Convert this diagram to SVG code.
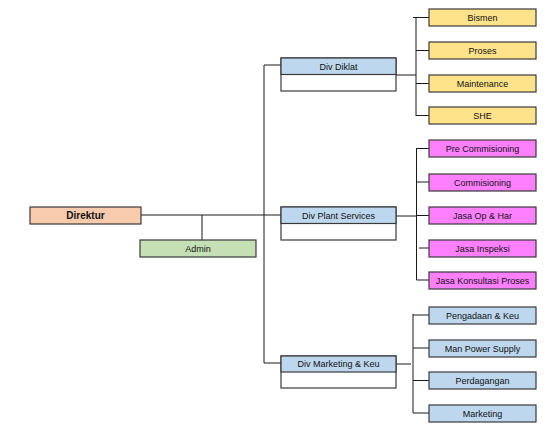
<svg xmlns="http://www.w3.org/2000/svg" width="556" height="433" viewBox="0 0 556 433">
<style>
.box{stroke:#3a3a3a;stroke-width:1.2}
.w{fill:#ffffff}
.peach{fill:#F8CBAD}
.green{fill:#C5E0B4}
.blue{fill:#BDD7EE}
.yellow{fill:#FFE38A}
.pink{fill:#FF80FF}
.ln{stroke:#1a1a1a;stroke-width:1;fill:none}
text{font-family:"Liberation Sans",Arial,sans-serif;font-size:9px;fill:#111;text-anchor:middle;dominant-baseline:central}
.b{font-weight:bold;font-size:10px}
</style>
<rect width="556" height="433" fill="#ffffff"/>
<g id="connectors">
<path class="ln" d="M141 215H281M202 215V240M264 65V363M264 65H281M264 363H281"/>
<path class="ln" d="M396 75H416M416 17V116M413 17.5H429M416 50.5H429M416 83.5H429M416 115.5H429"/>
<path class="ln" d="M396 216H416.5M416.5 148V280M416.5 148.5H429M416.5 182H429M416.5 215.5H429M419 248H429M416.5 280H429"/>
<path class="ln" d="M396 364H411M413 314V413M413 315H429M413 348H429M413 380.5H429M413 413H429"/>
</g>
<g id="direktur"><rect class="box peach" x="30" y="207" width="111" height="17"/><text class="b" x="85.5" y="215.5">Direktur</text></g>
<g id="admin"><rect class="box green" x="140" y="240" width="116" height="17"/><text x="198" y="248.5">Admin</text></g>
<g id="div-diklat"><rect class="box w" x="281" y="58" width="115" height="33"/><rect class="box blue" x="281" y="58" width="115" height="16.5"/><text x="338.5" y="66.5">Div Diklat</text></g>
<g id="div-plant"><rect class="box w" x="281" y="207" width="115" height="33"/><rect class="box blue" x="281" y="207" width="115" height="16.5"/><text x="338.5" y="215.5">Div Plant Services</text></g>
<g id="div-marketing"><rect class="box w" x="281" y="356" width="115" height="32"/><rect class="box blue" x="281" y="356" width="115" height="16"/><text x="338.5" y="364">Div Marketing &amp; Keu</text></g>
<g id="bismen"><rect class="box yellow" x="429" y="9" width="107" height="17"/><text x="482.5" y="17.5">Bismen</text></g>
<g id="proses"><rect class="box yellow" x="429" y="42" width="107" height="17"/><text x="482.5" y="50.5">Proses</text></g>
<g id="maintenance"><rect class="box yellow" x="429" y="75" width="107" height="17"/><text x="482.5" y="83.5">Maintenance</text></g>
<g id="she"><rect class="box yellow" x="429" y="107" width="107" height="17"/><text x="482.5" y="115.5">SHE</text></g>
<g id="pre-commisioning"><rect class="box pink" x="429" y="140" width="107" height="17"/><text x="482.5" y="148.5">Pre Commisioning</text></g>
<g id="commisioning"><rect class="box pink" x="429" y="174" width="107" height="17"/><text x="482.5" y="182.5">Commisioning</text></g>
<g id="jasa-op"><rect class="box pink" x="429" y="207" width="107" height="17"/><text x="482.5" y="215.5">Jasa Op &amp; Har</text></g>
<g id="jasa-inspeksi"><rect class="box pink" x="429" y="240" width="107" height="17"/><text x="482.5" y="248.5">Jasa Inspeksi</text></g>
<g id="jasa-konsultasi"><rect class="box pink" x="429" y="272" width="107" height="17"/><text x="482.5" y="280.5">Jasa Konsultasi Proses</text></g>
<g id="pengadaan"><rect class="box blue" x="429" y="307" width="107" height="17"/><text x="482.5" y="315.5">Pengadaan &amp; Keu</text></g>
<g id="man-power"><rect class="box blue" x="429" y="340" width="107" height="17"/><text x="482.5" y="348.5">Man Power Supply</text></g>
<g id="perdagangan"><rect class="box blue" x="429" y="372" width="107" height="17"/><text x="482.5" y="380.5">Perdagangan</text></g>
<g id="marketing"><rect class="box blue" x="429" y="405" width="107" height="17"/><text x="482.5" y="413.5">Marketing</text></g>
</svg>
